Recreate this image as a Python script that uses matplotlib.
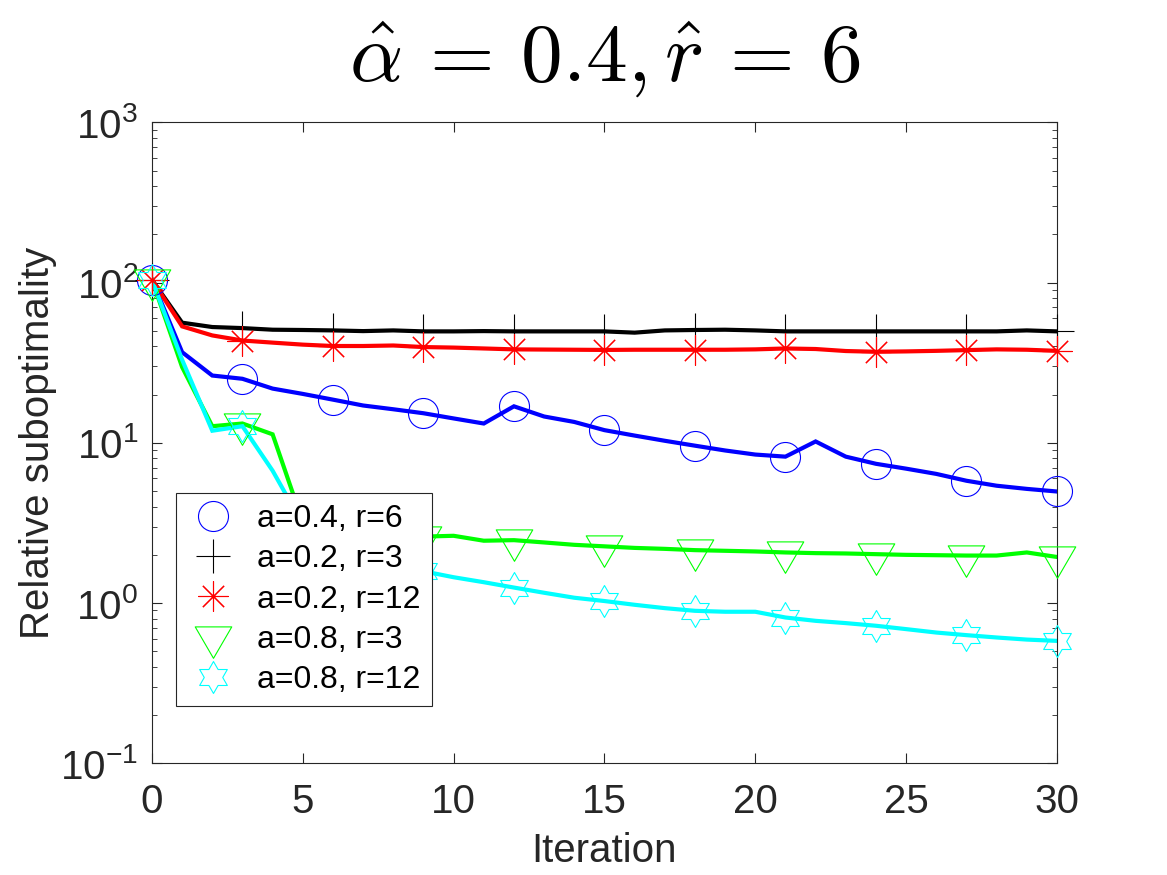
import numpy as np
import matplotlib
matplotlib.use("Agg")
import matplotlib.pyplot as plt
from matplotlib.path import Path
from matplotlib.lines import Line2D

plt.rcParams['font.family'] = ['Liberation Sans', 'DejaVu Sans']
plt.rcParams['mathtext.fontset'] = 'custom'
plt.rcParams['mathtext.rm'] = 'Liberation Sans'
plt.rcParams['mathtext.it'] = 'Liberation Sans:italic'

iterations = list(range(31))
labels = ["a=0.4, r=6", "a=0.2, r=3", "a=0.2, r=12", "a=0.8, r=3", "a=0.8, r=12"]

blue_a04_r6 = [104, 36.8, 26.3, 25.1, 21.8, 20.2, 18.6, 17.1, 16.2, 15.3, 14.2, 13.2, 16.9, 14.6, 13.5, 12.0,
               11.1, 10.3, 9.6, 8.96, 8.45, 8.2, 10.2, 8.2, 7.4, 6.9, 6.4, 5.8, 5.4, 5.16, 4.97]
black_a02_r3 = [104, 56.2, 52.8, 52.0, 50.8, 50.6, 50.3, 49.8, 50.3, 49.6, 49.6, 49.8, 49.6, 49.6, 49.6, 49.6,
                48.7, 50.3, 50.6, 50.8, 50.3, 49.6, 49.6, 49.6, 49.6, 49.6, 49.6, 49.6, 49.6, 50.3, 49.6]
red_a02_r12 = [104, 53.3, 46.8, 43.5, 42.2, 41.0, 40.2, 40.2, 40.5, 39.6, 39.3, 38.8, 38.3, 38.2, 38.1, 38.0,
               38.1, 38.1, 38.1, 38.1, 38.3, 38.8, 38.5, 37.4, 37.0, 37.2, 37.5, 37.9, 38.3, 38.1, 37.5]
green_a08_r3 = [104, 29.7, 12.7, 13.2, 11.3, 3.2, 2.8, 2.7, 2.65, 2.6, 2.63, 2.45, 2.47, 2.39, 2.31, 2.26,
                2.21, 2.18, 2.14, 2.12, 2.10, 2.07, 2.05, 2.04, 2.02, 2.00, 1.99, 1.98, 1.98, 2.07, 1.94]
cyan_a08_r12 = [104, 33.0, 11.9, 12.7, 6.7, 3.1, 2.3, 1.9, 1.7, 1.58, 1.45, 1.35, 1.25, 1.16, 1.08, 1.03,
                0.976, 0.93, 0.895, 0.883, 0.883, 0.813, 0.775, 0.75, 0.722, 0.688, 0.655, 0.631, 0.61, 0.592, 0.581]

series = [blue_a04_r6, black_a02_r3, red_a02_r12, green_a08_r3, cyan_a08_r12]
colors = ['#0000ff', '#000000', '#ff0000', '#00ff00', '#00ffff']

hexagram = Path.unit_regular_star(6, innerCircle=0.57735)
tri_down = Path([(-0.5, 0.29), (0.5, 0.29), (0.0, -0.57), (-0.5, 0.29)],
                [Path.MOVETO, Path.LINETO, Path.LINETO, Path.CLOSEPOLY])
markers = ['o', '+', (8, 2, 0), tri_down, hexagram]
msizes = [21.6, 24.5, 21.6, 30, 23]

fig = plt.figure(figsize=(11.67, 8.75), dpi=100)
ax = fig.add_axes([0.1302, 0.1276, 0.7755, 0.7326])

x = np.array(iterations)
handles = []
for ys, c, m, ms, lab in zip(series, colors, markers, msizes, labels):
    y = np.array(ys)
    ax.plot(x, y, color=c, lw=3.0, solid_joinstyle='miter', zorder=2)
    ax.plot(x[::3], y[::3], linestyle='none', marker=m, markersize=ms,
            markerfacecolor='none', markeredgecolor=c, markeredgewidth=0.8, zorder=3,
            clip_on=False)
    handles.append(Line2D([], [], linestyle='none', marker=m, markersize=ms,
                          markerfacecolor='none', markeredgecolor=c, markeredgewidth=0.8, label=lab))

ax.set_yscale('log')
ax.set_xlim(0, 30)
ax.set_ylim(0.1, 1000)
ax.set_xticks([0, 5, 10, 15, 20, 25, 30])

axis_col = '#262626'
for s in ax.spines.values():
    s.set_color(axis_col)
    s.set_linewidth(0.8)
ax.tick_params(which='both', direction='in', top=True, right=True, colors=axis_col,
               labelsize=29, labelcolor=axis_col)
ax.tick_params(which='major', length=7, width=0.8)
ax.tick_params(axis='x', which='major', pad=14)
ax.tick_params(axis='y', which='major', pad=10)
ax.tick_params(which='minor', length=3.5, width=0.6)

ax.set_xlabel('Iteration', fontsize=29, color=axis_col, labelpad=8)
ax.set_ylabel('Relative suboptimality', fontsize=29, color=axis_col, labelpad=2)
ax.set_title(r'$\hat{\alpha}\,=\,0.4,\hat{r}\,=\,6$', fontsize=60, math_fontfamily='cm', pad=30)

leg = ax.legend(handles=handles, loc='upper left', bbox_to_anchor=(0.0265, 0.4217),
                borderaxespad=0, fontsize=23, frameon=True, fancybox=False,
                handlelength=1.6, handletextpad=0.6, labelspacing=0.32, borderpad=0.35,
                framealpha=1)
leg.get_frame().set_edgecolor(axis_col)
leg.get_frame().set_linewidth(0.8)
leg.set_zorder(5)

fig.savefig('out.png', dpi=100)
